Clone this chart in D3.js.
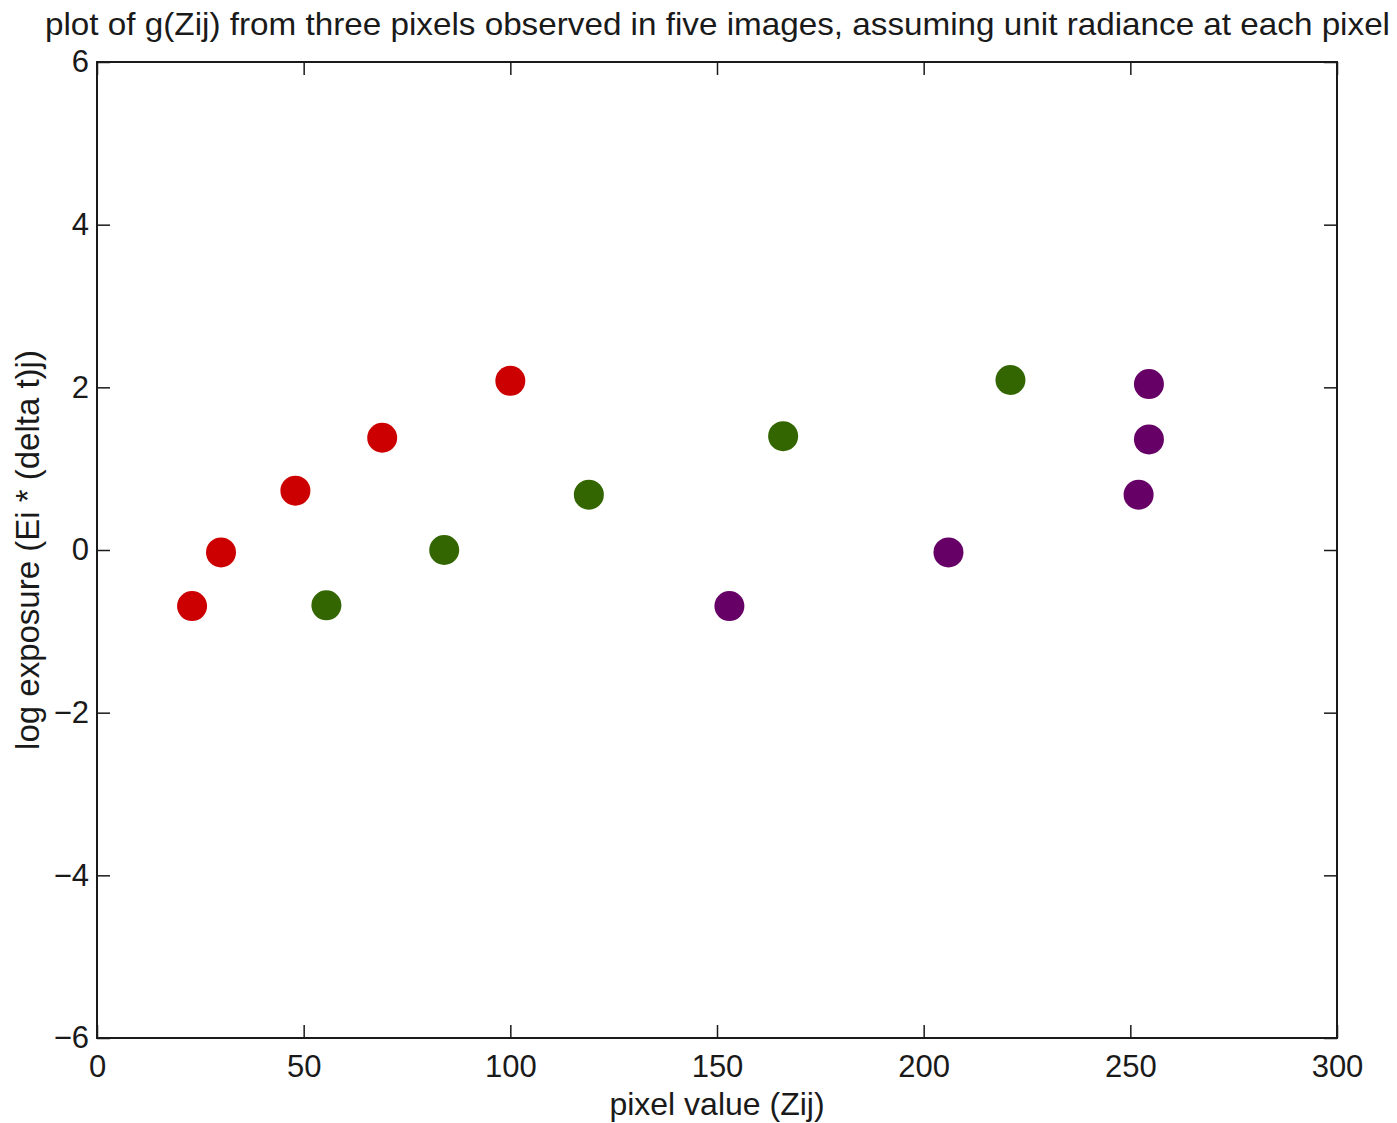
<!DOCTYPE html>
<html>
<head>
<meta charset="utf-8">
<style>
  body { margin: 0; background: #fff; }
  svg text { font-family: "Liberation Sans", Arial, sans-serif; fill: #1a1a1a; }
</style>
</head>
<body>
<script src="https://cdn.jsdelivr.net/npm/d3@7"></script>
<script>
  // data, one series per pixel
  var redX = [23, 30, 48, 69, 100];
  var redY = [-0.69, -0.03, 0.73, 1.38, 2.08];
  var greenX = [55.5, 84, 119, 166, 221];
  var greenY = [-0.68, 0, 0.68, 1.40, 2.09];
  var purpleX = [153, 206, 252, 254.5, 254.5];
  var purpleY = [-0.69, -0.03, 0.68, 1.36, 2.04];
  var xTicks = [0, 50, 100, 150, 200, 250, 300];
  var yTicks = [-6, -4, -2, 0, 2, 4, 6];

  var series = [
    {color: "#cc0000", xs: redX, ys: redY},
    {color: "#336600", xs: greenX, ys: greenY},
    {color: "#660066", xs: purpleX, ys: purpleY}
  ];

  var margin = {top: 62, right: 60, bottom: 85, left: 97};
  var width = 1397 - margin.left - margin.right,
      height = 1123 - margin.top - margin.bottom;

  var svg = d3.select("body").append("svg")
    .attr("width", 1397)
    .attr("height", 1123);

  var g = svg.append("g")
    .attr("transform", "translate(" + margin.left + "," + margin.top + ")");

  var x = d3.scaleLinear().domain([0, 300]).range([0, width]);
  var y = d3.scaleLinear().domain([-6, 6]).range([height, 0]);

  var tickLen = 13;
  var fmt = function(d) { return d < 0 ? "\u2212" + Math.abs(d) : d; };

  // bottom axis with labels, ticks pointing inward
  g.append("g").attr("class", "ax")
    .attr("transform", "translate(0," + height + ")")
    .call(d3.axisBottom(x).tickValues(xTicks).tickSize(-tickLen).tickPadding(17).tickFormat(fmt));
  // top axis, no labels
  g.append("g").attr("class", "ax")
    .call(d3.axisTop(x).tickValues(xTicks).tickSize(-tickLen).tickFormat(""));
  // left axis with labels
  g.append("g").attr("class", "ax")
    .call(d3.axisLeft(y).tickValues(yTicks).tickSize(-tickLen).tickPadding(8).tickFormat(fmt));
  // right axis
  g.append("g").attr("class", "ax")
    .attr("transform", "translate(" + width + ",0)")
    .call(d3.axisRight(y).tickValues(yTicks).tickSize(-tickLen).tickFormat(""));

  g.selectAll(".ax .domain").remove();
  g.selectAll(".ax line").attr("stroke", "#1a1a1a").attr("stroke-width", 1.5);
  g.selectAll(".ax text").attr("font-size", 31).attr("fill", "#1a1a1a")
    .attr("font-family", "Liberation Sans, Arial, sans-serif");

  // frame
  g.append("rect")
    .attr("width", width).attr("height", height)
    .attr("fill", "none").attr("stroke", "#1a1a1a").attr("stroke-width", 2);

  // points
  series.forEach(function(s) {
    g.selectAll(null)
      .data(s.xs.map(function(v, i) { return [v, s.ys[i]]; }))
      .enter().append("circle")
      .attr("cx", function(d) { return x(d[0]); })
      .attr("cy", function(d) { return y(d[1]); })
      .attr("r", 15)
      .attr("fill", s.color);
  });

  // title
  svg.append("text")
    .attr("x", 45).attr("y", 35)
    .attr("font-size", 32)
    .attr("textLength", 1345)
    .attr("lengthAdjust", "spacingAndGlyphs")
    .text("plot of g(Zij) from three pixels observed in five images, assuming unit radiance at each pixel");

  // axis labels
  svg.append("text")
    .attr("x", margin.left + width / 2).attr("y", 1115)
    .attr("text-anchor", "middle")
    .attr("font-size", 32)
    .text("pixel value (Zij)");

  svg.append("text")
    .attr("transform", "translate(39," + (margin.top + height / 2) + ") rotate(-90)")
    .attr("text-anchor", "middle")
    .attr("font-size", 33)
    .text("log exposure (Ei * (delta t)j)");
</script>
</body>
</html>
